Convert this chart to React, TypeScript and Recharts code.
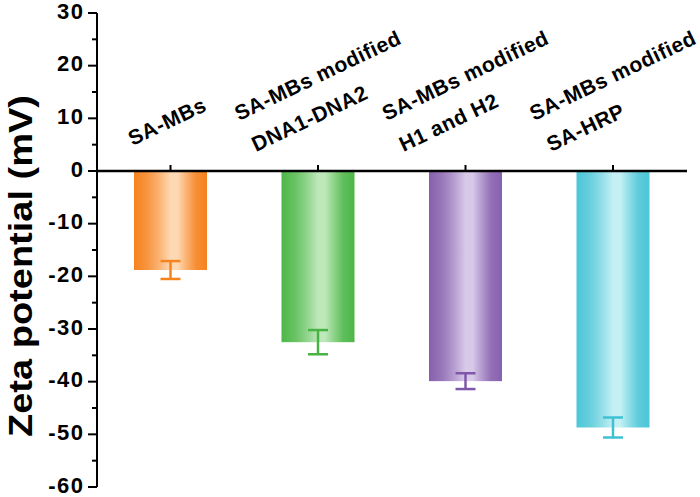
import React from "react";
import { BarChart, Bar, XAxis, YAxis, ErrorBar, ReferenceLine } from "recharts";

const categories = [
  "SA-MBs",
  "SA-MBs modified DNA1-DNA2",
  "SA-MBs modified H1 and H2",
  "SA-MBs modified SA-HRP",
];
const labelLines = [
  ["SA-MBs"],
  ["SA-MBs modified", "DNA1-DNA2"],
  ["SA-MBs modified", "H1 and H2"],
  ["SA-MBs modified", "SA-HRP"],
];
const zetaValues = [-18.8, -32.5, -39.9, -48.7];
const zetaErrors = [1.7, 2.3, 1.5, 1.9];
const yTicks = [-60, -55, -50, -45, -40, -35, -30, -25, -20, -15, -10, -5, 0, 5, 10, 15, 20, 25, 30];
const yLabelTicks = [-60, -50, -40, -30, -20, -10, 0, 10, 20, 30];

const darkColors = ["#F6821E", "#4DB748", "#8760AE", "#4CC6D7"];
const lightColors = ["#FDD8B2", "#BDE8B9", "#D8C9E8", "#C4F0F4"];
const errorColors = ["#F5841F", "#46B342", "#7E57A8", "#3FC1D3"];

const FONT = "'Liberation Sans', Arial, Helvetica, sans-serif";

const data = categories.map((name, i) => {
  const row: Record<string, any> = { name };
  categories.forEach((_, j) => {
    row["v" + j] = i === j ? zetaValues[i] : null;
    row["e" + j] = i === j ? zetaErrors[i] : null;
  });
  return row;
});

function LabelText({ x, y, text }: { x: number; y: number; text: string }) {
  return (
    <text
      x={x}
      y={y}
      transform={`rotate(-25.5 ${x} ${y})`}
      fontFamily={FONT}
      fontWeight="bold"
      fontSize={21}
      letterSpacing={0.5}
      fill="#000"
    >
      {text}
    </text>
  );
}

function BarShape(props: any) {
  const { x, y, width, height, series } = props;
  if (!height || !width) return null;
  const top = Math.min(y, y + height);
  const h = Math.abs(height);
  const cx = x + width / 2;
  const id = "grad" + series;
  const lines = labelLines[series];
  const zeroY = top;
  let labels;
  if (lines.length === 1) {
    labels = <LabelText x={cx - 38} y={zeroY - 25} text={lines[0]} />;
  } else {
    const bx = cx - 62;
    const by = zeroY - 19;
    labels = (
      <g>
        <LabelText x={bx - 17} y={by - 31} text={lines[0]} />
        <LabelText x={bx} y={by} text={lines[1]} />
      </g>
    );
  }
  return (
    <g>
      <defs>
        <linearGradient id={id} x1="0" x2="1" y1="0" y2="0">
          <stop offset="0" stopColor={darkColors[series]} />
          <stop offset="0.18" stopColor={darkColors[series]} stopOpacity={0.85} />
          <stop offset="0.5" stopColor={lightColors[series]} />
          <stop offset="0.6" stopColor={lightColors[series]} />
          <stop offset="0.85" stopColor={darkColors[series]} stopOpacity={0.9} />
          <stop offset="1" stopColor={darkColors[series]} />
        </linearGradient>
      </defs>
      <rect x={x} y={top} width={width} height={h} fill={`url(#${id})`} />
      <line x1={cx} x2={cx} y1={zeroY - 6} y2={zeroY} stroke="#000" strokeWidth={2} />
      {labels}
    </g>
  );
}

function YTick(props: any) {
  const { x, y, payload } = props;
  const v = payload.value;
  const major = yLabelTicks.includes(v);
  return (
    <g>
      <line x1={x - (major ? 9 : 5)} x2={x} y1={y} y2={y} stroke="#000" strokeWidth={2} />
      {major && (
        <text
          x={x - 12.5}
          y={y + 5.5}
          textAnchor="end"
          fontFamily={FONT}
          fontWeight="bold"
          fontSize={22}
          letterSpacing={1.5}
          fill="#000"
        >
          {v}
        </text>
      )}
    </g>
  );
}

function YLabel(props: any) {
  const vb = props.viewBox || { x: 0, y: 13, width: 97, height: 474 };
  const cx = vb.x + 31.5;
  const cy = vb.y + vb.height / 2 + 16;
  return (
    <text
      x={cx}
      y={cy}
      transform={`rotate(-90 ${cx} ${cy})`}
      textAnchor="middle"
      fontFamily={FONT}
      fontWeight="bold"
      fontSize={33}
      textLength={342}
      lengthAdjust="spacingAndGlyphs"
      fill="#000"
    >
      Zeta potential (mV)
    </text>
  );
}

export default function App() {
  return (
    <div style={{ position: "absolute", left: 0, top: 0, width: 700, height: 497, background: "#fff" }}>
      <BarChart
        width={700}
        height={497}
        data={data}
        margin={{ top: 13, right: 13, bottom: 10, left: 0 }}
        barSize={73}
      >
        <XAxis dataKey="name" hide />
        <YAxis
          type="number"
          domain={[-60, 30]}
          ticks={yTicks}
          interval={0}
          width={97}
          allowDataOverflow
          axisLine={{ stroke: "#000", strokeWidth: 2 }}
          tickLine={false}
          tickSize={0}
          tickMargin={0}
          tick={<YTick />}
          label={<YLabel />}
        />
        {categories.map((_, j) => (
          <Bar
            key={j}
            dataKey={"v" + j}
            stackId="s"
            isAnimationActive={false}
            shape={(p: any) => <BarShape {...p} series={j} />}
          >
            <ErrorBar dataKey={"e" + j} width={10} strokeWidth={2.5} stroke={errorColors[j]} isAnimationActive={false} />
          </Bar>
        ))}
        <ReferenceLine y={0} stroke="#000" strokeWidth={2.5} />
      </BarChart>
    </div>
  );
}
